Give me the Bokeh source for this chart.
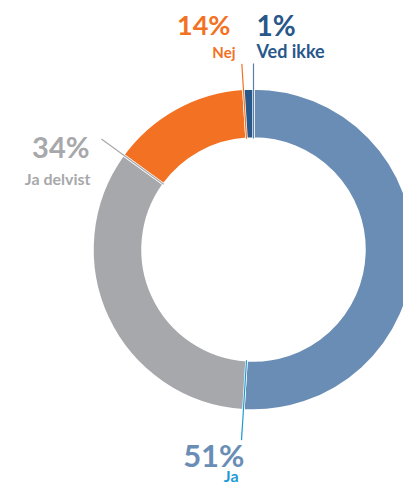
import numpy as np
from bokeh.plotting import figure
from bokeh.models import Range1d, ColumnDataSource
from bokeh.core.properties import value
from bokeh.embed import file_html
from bokeh.resources import INLINE

# data (clockwise from 12 o'clock)
categories = ["Ja", "Ja delvist", "Nej", "Ved ikke"]
values = [51, 34, 14, 1]
pct_labels = ["51%", "34%", "14%", "1%"]
colors = ["#6a8db6", "#a7a8ab", "#f37123", "#28578a"]
name_colors = ["#1d9ad6", "#a7a8ab", "#f37123", "#28578a"]
line_colors = ["#1d9ad6", "#a7a8ab", "#f37123", "#5a7fa8"]

W, H = 403, 486

p = figure(width=W, height=H, output_backend="svg", toolbar_location=None,
           x_range=Range1d(0, W), y_range=Range1d(0, H),
           min_border=0, outline_line_color=None)
p.axis.visible = False
p.grid.visible = False
p.background_fill_color = "white"

# layout in page pixels (y measured from top)
cx, cy = 253, H - 249
r_in, r_out = 111, 161

vals = np.array(values, dtype=float)
frac = vals / vals.sum()
cum_end = np.cumsum(frac)
cum_start = cum_end - frac
start = np.pi / 2 - 2 * np.pi * cum_start
end = np.pi / 2 - 2 * np.pi * cum_end

src = ColumnDataSource(dict(start=start, end=end, color=colors, cat=categories))
p.annular_wedge(x=cx, y=cy, inner_radius=r_in, outer_radius=r_out,
                inner_radius_units="screen", outer_radius_units="screen",
                start_angle="start", end_angle="end", direction="clock",
                fill_color="color", line_color="white", line_width=2.5, source=src)

# leader lines along end boundary of each slice
line_r_out = [191, 188, 186, 186]
x0 = cx + r_in * np.cos(end)
y0 = cy + r_in * np.sin(end)
x1 = cx + np.array(line_r_out) * np.cos(end)
y1 = cy + np.array(line_r_out) * np.sin(end)
p.segment(x0=x0, y0=y0, x1=x1, y1=y1, line_color=line_colors, line_width=1.2)

# label layout (page pixel positions: x, baseline y, align, font size px)
pct_pos = [(244, 467, "right", 31), (89, 158, "right", 29),
           (230, 35, "right", 27), (256, 36, "left", 28)]
name_pos = [(238, 481, "right", 16), (90, 184, "right", 16),
            (235, 57, "right", 15), (256, 58, "left", 18)]

def draw(x, y, txt, color, al, fs):
    ycorr = y - 0.4 * fs  # compensate baseline offset of svg text
    p.text(x=[x], y=[H - ycorr], text=[txt], text_color=color,
           text_font=value("Lato"), text_font_style="bold", text_font_size=f"{fs}px",
           text_align=al, text_baseline="alphabetic")

for i in range(len(categories)):
    px, py, al, fs = pct_pos[i]
    draw(px, py, pct_labels[i], colors[i], al, fs)
    nx, ny, al2, fs2 = name_pos[i]
    draw(nx, ny, categories[i], name_colors[i], al2, fs2)

open("out.html", "w").write(file_html(p, INLINE))
